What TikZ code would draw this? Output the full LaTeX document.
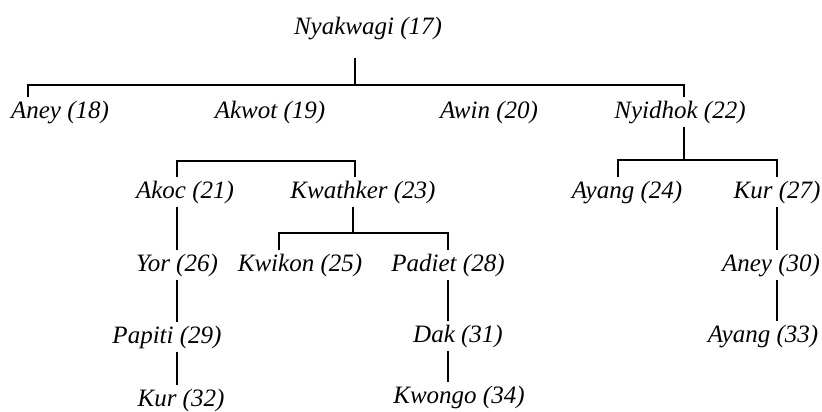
\documentclass[tikz,border=0pt]{standalone}
\usepackage{fontspec}
\setmainfont{Liberation Serif}
\usepackage{tikz}

\begin{document}
\begin{tikzpicture}[x=1pt,y=-1pt,
    person/.style={inner sep=0pt,outer sep=4pt,text height=17pt,text depth=4.5pt,
        font=\fontsize{25}{30}\selectfont\itshape},
    link/.style={line width=1.8pt}]
            \useasboundingbox (0,0) rectangle (822,412);
            \node[person] (nyakwagi) at (368,28) {Nyakwagi (17)};
            \node[person] (aney18) at (60,112) {Aney (18)};
            \node[person] (akwot) at (270,112) {Akwot (19)};
            \node[person] (awin) at (489,112) {Awin (20)};
            \node[person] (nyidhok) at (680,112) {Nyidhok (22)};
            \node[person] (akoc) at (185,192) {Akoc (21)};
            \node[person] (kwathker) at (363,192) {Kwathker (23)};
            \node[person] (ayang24) at (627,192) {Ayang (24)};
            \node[person] (kur27) at (777,192) {Kur (27)};
            \node[person] (yor) at (177,265) {Yor (26)};
            \node[person] (kwikon) at (300,265) {Kwikon (25)};
            \node[person] (padiet) at (448,265) {Padiet (28)};
            \node[person] (aney30) at (771,265) {Aney (30)};
            \node[person] (papiti) at (167,337) {Papiti (29)};
            \node[person] (dak) at (458,336) {Dak (31)};
            \node[person] (ayang33) at (763,336) {Ayang (33)};
            \node[person] (kur32) at (181,400) {Kur (32)};
            \node[person] (kwongo) at (459,397) {Kwongo (34)};

            \coordinate (j17) at (355,85);
            \coordinate (j19) at (355,161);
            \coordinate (j22) at (684,160);
            \coordinate (j23) at (353,233);

            \draw[link] ([yshift=-15pt]nyakwagi.south -| j17) -- (j17);
            \draw[link] ([xshift=-32pt]aney18.north) |- (j17) -| ([xshift=4pt]nyidhok.north);
            \draw[link] (akoc.north -| yor) |- (j19) -- (kwathker.north -| j19);
            \draw[link] (nyidhok.south -| j22) -- (j22);
            \draw[link] ([xshift=-9pt]ayang24.north) |- (j22) -| (kur27.north);
            \draw[link] (kwathker.south -| j23) -- (j23);
            \draw[link] ([xshift=-21pt]kwikon.north) |- (j23) -| (padiet.north);
            \draw[link] (akoc.south -| yor) -- (yor.north);
            \draw[link] (yor.south) -- (papiti.north -| yor);
            \draw[link] (papiti.south -| yor) -- (kur32.north -| yor);
            \draw[link] (padiet.south) -- (dak.north -| padiet);
            \draw[link] (dak.south -| padiet) -- (kwongo.north -| padiet);
            \draw[link] (kur27.south) -- (aney30.north -| kur27);
            \draw[link] (aney30.south -| kur27) -- (ayang33.north -| kur27);
        \end{tikzpicture}
\end{document}
